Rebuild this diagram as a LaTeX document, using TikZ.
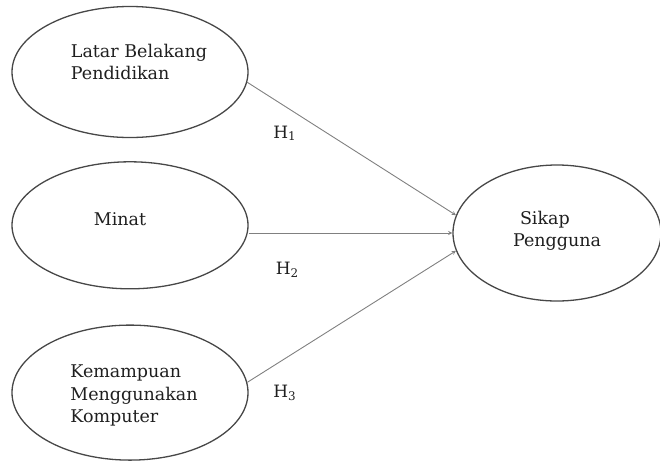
\documentclass[tikz,border=0pt]{standalone}
\usepackage{fontspec}
\setmainfont{DejaVu Serif}
\usepackage{xcolor}
\usetikzlibrary{shapes,arrows,positioning}

\begin{document}
\begin{tikzpicture}[
    x=1pt, y=-1pt,
    varbox/.style={ellipse, draw=black!72, line width=1.3pt, minimum width=236pt, inner sep=0pt},
    vartext/.style={align=left, font=\fontsize{17.5}{22.5}\selectfont, text=black!88, inner sep=0pt},
    arrow/.style={->, >=stealth, draw=black!50, line width=0.9pt},
    hyp/.style={font=\fontsize{17}{20}\selectfont, text=black!88, inner sep=0pt}
]
\useasboundingbox (0,0) rectangle (660,461);

% Independent variables
\node[varbox, minimum height=131pt] (latar) at (130,72) {};
\node[varbox, minimum height=127pt, below=23pt of latar] (minat) {};
\node[varbox, minimum height=135pt, below=35pt of minat] (kemampuan) {};

% Dependent variable
\node[varbox, minimum width=208pt, minimum height=136pt] (sikap) at (557,233) {};

% Variable names
\node[vartext, xshift=9pt, yshift=10pt] (latartext) at (latar) {Latar Belakang\\Pendidikan};
\node[vartext, xshift=-10pt, yshift=6pt] (minattext) at (minat) {Minat};
\node[vartext, xshift=4pt, yshift=-3pt] (kemampuantext) at (kemampuan) {Kemampuan\\Menggunakan\\Komputer};
\node[vartext, yshift=2pt] (sikaptext) at (sikap) {\hspace*{7pt}Sikap\\Pengguna};

% Hypotheses
\draw[arrow] (latar.-5) -- node[hyp, pos=0.18, below=19pt] (h1) {H\textsubscript{1}} (sikap.170);
\draw[arrow] (minat.east |- sikap.west) -- node[hyp, pos=0.19, below=29pt] (h2) {H\textsubscript{2}} (sikap.west);
\draw[arrow] (kemampuan.5) -- node[hyp, pos=0.18, below=26pt] (h3) {H\textsubscript{3}} (sikap.190);

\end{tikzpicture}
\end{document}
